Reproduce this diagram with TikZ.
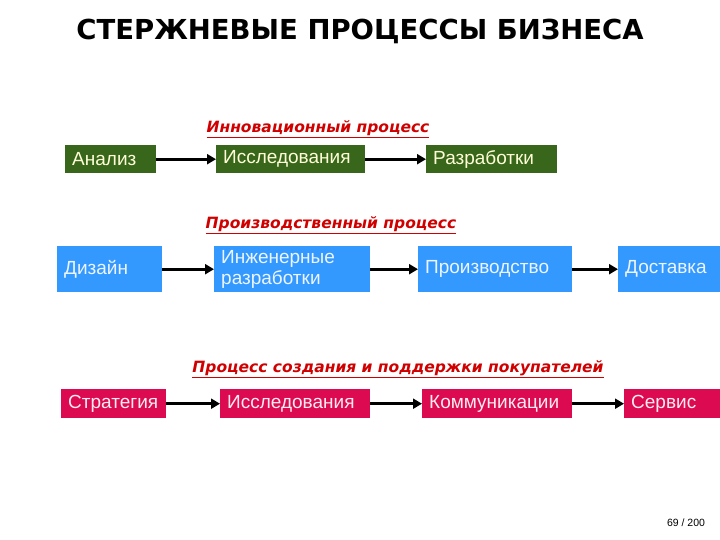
\documentclass[tikz,border=0pt]{standalone}
\usepackage{fontspec}
\setmainfont{Liberation Sans}
\newfontfamily\headfont{DejaVu Sans}
\usetikzlibrary{arrows.meta,positioning}
\definecolor{innogreen}{HTML}{38661A}
\definecolor{prodblue}{HTML}{3399FF}
\definecolor{custred}{HTML}{DC0A50}
\definecolor{labelred}{HTML}{D00000}
\definecolor{greentext}{HTML}{FFFFD8}
\definecolor{bluetext}{HTML}{EEF4FF}
\definecolor{redtext}{HTML}{FFECF0}

\begin{document}
\begin{tikzpicture}[
    x=1pt, y=-1pt,
    stage/.style={anchor=north west, inner xsep=7pt, inner ysep=0pt,
                  align=left, font=\fontsize{19}{21}\selectfont},
    inno/.style={stage, fill=innogreen, text=greentext, minimum height=28pt},
    prod/.style={stage, fill=prodblue, text=bluetext, minimum height=46pt},
    cust/.style={stage, fill=custred, text=redtext, minimum height=29pt},
    flow/.style={-{Triangle[length=9pt,width=10pt]}, line width=3pt, draw=black},
    head/.style={font=\headfont\fontsize{15.5}{18}\selectfont\bfseries\itshape, text=labelred},
  ]
  \useasboundingbox (0,0) rectangle (720,540);

  \node[font=\headfont\fontsize{27.5}{32}\selectfont\bfseries] (title) at (360,31) {СТЕРЖНЕВЫЕ ПРОЦЕССЫ БИЗНЕСА};

  % innovation process
  \node[head] (innolbl) at (318,129) {\underline{Инновационный процесс}};
  \node[inno, text width=77pt] (anal) at (65,145) {Анализ};
  \node[inno, text width=135pt] (res1) at (216,145) {Исследования};
  \node[inno, text width=117pt] (dev) at (426,145) {Разработки};

  % production process
  \node[head] (prodlbl) at (331,225) {\underline{Производственный процесс}};
  \node[prod, text width=91pt] (design) at (57,246) {Дизайн};
  \node[prod, text width=142pt] (eng) at (214,246) {Инженерные\\разработки};
  \node[prod, text width=140pt] (manuf) at (418,246) {Производство};
  \node[prod, text width=88pt] (deliv) at (618,246) {Доставка};

  % customer process
  \node[head] (custlbl) at (398,369) {\underline{Процесс создания и поддержки покупателей}};
  \node[cust, text width=91pt] (strat) at (61,389) {Стратегия};
  \node[cust, text width=136pt] (res2) at (220,389) {Исследования};
  \node[cust, text width=136pt] (comm) at (422,389) {Коммуникации};
  \node[cust, text width=82pt] (serv) at (624,389) {Сервис};

  \draw[flow] (anal) -- (res1);
  \draw[flow] (res1) -- (dev);
  \draw[flow] (design) -- (eng);
  \draw[flow] (eng) -- (manuf);
  \draw[flow] (manuf) -- (deliv);
  \draw[flow] (strat) -- (res2);
  \draw[flow] (res2) -- (comm);
  \draw[flow] (comm) -- (serv);

  \node[font=\fontsize{10.5}{12}\selectfont] (page) at (686,523) {69 / 200};
\end{tikzpicture}
\end{document}
